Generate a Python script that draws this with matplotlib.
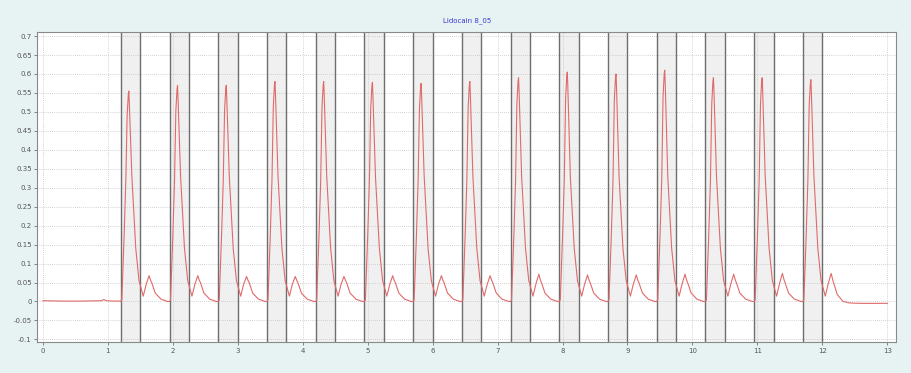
import matplotlib
matplotlib.use("Agg")
import matplotlib.pyplot as plt

title = "Lidocain 8_05"

# stimulus windows (grey bands)
band_start = [1.20, 1.95, 2.70, 3.45, 4.20, 4.95, 5.70, 6.45, 7.20, 7.95, 8.70, 9.45, 10.20, 10.95, 11.70]
band_end = [1.50, 2.25, 3.00, 3.75, 4.50, 5.25, 6.00, 6.75, 7.50, 8.25, 9.00, 9.75, 10.50, 11.25, 12.00]

# trace, one line per cycle
trace_t = [
    0.00, 0.30, 0.60, 0.90, 0.94, 0.98, 1.10, 1.19,
    1.200, 1.215, 1.250, 1.277, 1.297, 1.315, 1.323, 1.330, 1.370, 1.430, 1.480, 1.545, 1.590, 1.635, 1.660, 1.675, 1.730, 1.820, 1.920,
    1.950, 1.965, 2.000, 2.027, 2.047, 2.065, 2.073, 2.080, 2.120, 2.180, 2.230, 2.295, 2.340, 2.385, 2.410, 2.425, 2.480, 2.570, 2.670,
    2.700, 2.715, 2.750, 2.777, 2.797, 2.815, 2.823, 2.830, 2.870, 2.930, 2.980, 3.045, 3.090, 3.135, 3.160, 3.175, 3.230, 3.320, 3.420,
    3.450, 3.465, 3.500, 3.527, 3.547, 3.565, 3.573, 3.580, 3.620, 3.680, 3.730, 3.795, 3.840, 3.885, 3.910, 3.925, 3.980, 4.070, 4.170,
    4.200, 4.215, 4.250, 4.277, 4.297, 4.315, 4.323, 4.330, 4.370, 4.430, 4.480, 4.545, 4.590, 4.635, 4.660, 4.675, 4.730, 4.820, 4.920,
    4.950, 4.965, 5.000, 5.027, 5.047, 5.065, 5.073, 5.080, 5.120, 5.180, 5.230, 5.295, 5.340, 5.385, 5.410, 5.425, 5.480, 5.570, 5.670,
    5.700, 5.715, 5.750, 5.777, 5.797, 5.815, 5.823, 5.830, 5.870, 5.930, 5.980, 6.045, 6.090, 6.135, 6.160, 6.175, 6.230, 6.320, 6.420,
    6.450, 6.465, 6.500, 6.527, 6.547, 6.565, 6.573, 6.580, 6.620, 6.680, 6.730, 6.795, 6.840, 6.885, 6.910, 6.925, 6.980, 7.070, 7.170,
    7.200, 7.215, 7.250, 7.277, 7.297, 7.315, 7.323, 7.330, 7.370, 7.430, 7.480, 7.545, 7.590, 7.635, 7.660, 7.675, 7.730, 7.820, 7.920,
    7.950, 7.965, 8.000, 8.027, 8.047, 8.065, 8.073, 8.080, 8.120, 8.180, 8.230, 8.295, 8.340, 8.385, 8.410, 8.425, 8.480, 8.570, 8.670,
    8.700, 8.715, 8.750, 8.777, 8.797, 8.815, 8.823, 8.830, 8.870, 8.930, 8.980, 9.045, 9.090, 9.135, 9.160, 9.175, 9.230, 9.320, 9.420,
    9.450, 9.465, 9.500, 9.527, 9.547, 9.565, 9.573, 9.580, 9.620, 9.680, 9.730, 9.795, 9.840, 9.885, 9.910, 9.925, 9.980, 10.070, 10.170,
    10.200, 10.215, 10.250, 10.277, 10.297, 10.315, 10.323, 10.330, 10.370, 10.430, 10.480, 10.545, 10.590, 10.635, 10.660, 10.675, 10.730, 10.820, 10.920,
    10.950, 10.965, 11.000, 11.027, 11.047, 11.065, 11.073, 11.080, 11.120, 11.180, 11.230, 11.295, 11.340, 11.385, 11.410, 11.425, 11.480, 11.570, 11.670,
    11.700, 11.715, 11.750, 11.777, 11.797, 11.815, 11.823, 11.830, 11.870, 11.930, 11.980, 12.045, 12.090, 12.135, 12.160, 12.175, 12.230, 12.320, 12.420,
    12.600, 12.800, 13.000,
]
trace_v = [
    0.002, 0.001, 0.001, 0.002, 0.005, 0.002, 0.001, 0.001,
    0.000, 0.004, 0.170, 0.320, 0.490, 0.545, 0.555, 0.525, 0.330, 0.140, 0.055, 0.014, 0.045, 0.068, 0.055, 0.050, 0.022, 0.006, 0.000,
    0.000, 0.004, 0.170, 0.320, 0.503, 0.560, 0.570, 0.540, 0.330, 0.140, 0.055, 0.014, 0.045, 0.068, 0.055, 0.050, 0.022, 0.006, 0.000,
    0.000, 0.004, 0.170, 0.320, 0.503, 0.560, 0.570, 0.540, 0.330, 0.140, 0.055, 0.014, 0.045, 0.066, 0.055, 0.050, 0.022, 0.006, 0.000,
    0.000, 0.004, 0.170, 0.320, 0.512, 0.570, 0.580, 0.550, 0.330, 0.140, 0.055, 0.014, 0.045, 0.066, 0.055, 0.050, 0.022, 0.006, 0.000,
    0.000, 0.004, 0.170, 0.320, 0.512, 0.570, 0.580, 0.550, 0.330, 0.140, 0.055, 0.014, 0.045, 0.066, 0.055, 0.050, 0.022, 0.006, 0.000,
    0.000, 0.004, 0.170, 0.320, 0.510, 0.568, 0.578, 0.548, 0.330, 0.140, 0.055, 0.014, 0.045, 0.068, 0.055, 0.050, 0.022, 0.006, 0.000,
    0.000, 0.004, 0.170, 0.320, 0.508, 0.565, 0.575, 0.545, 0.330, 0.140, 0.055, 0.014, 0.045, 0.068, 0.055, 0.050, 0.022, 0.006, 0.000,
    0.000, 0.004, 0.170, 0.320, 0.512, 0.570, 0.580, 0.550, 0.330, 0.140, 0.055, 0.014, 0.045, 0.068, 0.055, 0.050, 0.022, 0.006, 0.000,
    0.000, 0.004, 0.170, 0.320, 0.521, 0.580, 0.590, 0.560, 0.330, 0.140, 0.055, 0.014, 0.046, 0.072, 0.056, 0.050, 0.022, 0.006, 0.000,
    0.000, 0.004, 0.170, 0.320, 0.534, 0.595, 0.605, 0.575, 0.330, 0.140, 0.055, 0.014, 0.046, 0.070, 0.055, 0.050, 0.022, 0.006, 0.000,
    0.000, 0.004, 0.170, 0.320, 0.530, 0.590, 0.600, 0.570, 0.330, 0.140, 0.055, 0.014, 0.046, 0.070, 0.055, 0.050, 0.022, 0.006, 0.000,
    0.000, 0.004, 0.170, 0.320, 0.539, 0.600, 0.610, 0.580, 0.330, 0.140, 0.055, 0.014, 0.046, 0.072, 0.056, 0.050, 0.022, 0.006, 0.000,
    0.000, 0.004, 0.170, 0.320, 0.521, 0.580, 0.590, 0.560, 0.330, 0.140, 0.055, 0.014, 0.046, 0.072, 0.056, 0.050, 0.022, 0.006, 0.000,
    0.000, 0.004, 0.170, 0.320, 0.521, 0.580, 0.590, 0.560, 0.330, 0.140, 0.055, 0.014, 0.047, 0.074, 0.057, 0.050, 0.022, 0.006, 0.000,
    0.000, 0.004, 0.170, 0.320, 0.517, 0.575, 0.585, 0.555, 0.330, 0.140, 0.055, 0.014, 0.047, 0.074, 0.057, 0.048, 0.018, 0.000, -0.004,
    -0.005, -0.005, -0.005,
]

yticks = [-0.1, -0.05, 0, 0.05, 0.1, 0.15, 0.2, 0.25, 0.3, 0.35, 0.4, 0.45, 0.5, 0.55, 0.6, 0.65, 0.7]
ytick_labels = ["-0.1", "-0.05", "0", "0.05", "0.1", "0.15", "0.2", "0.25", "0.3", "0.35",
                "0.4", "0.45", "0.5", "0.55", "0.6", "0.65", "0.7"]
xticks = list(range(0, 14))

fig = plt.figure(figsize=(9.11, 3.73), dpi=100, facecolor="#e7f3f3")
ax = fig.add_axes([0.041, 0.083, 0.943, 0.831])
ax.set_facecolor("white")

for a, b in zip(band_start, band_end):
    ax.axvspan(a, b, color="#f0f0f0", zorder=0, lw=0)
    ax.axvline(a, color="#6e6e6e", lw=1.0, zorder=1)
    ax.axvline(b, color="#6e6e6e", lw=1.0, zorder=1)

ax.plot(trace_t, trace_v, color="#e06a6a", lw=0.8, zorder=3)

ax.set_xlim(-0.085, 13.14)
ax.set_ylim(-0.107, 0.7105)
ax.set_xticks(xticks)
ax.set_xticklabels([str(x) for x in xticks])
ax.set_yticks(yticks)
ax.set_yticklabels(ytick_labels)
ax.grid(True, color="#c4c4c4", linestyle=(0, (1, 1.5)), lw=0.6, zorder=0.5)
ax.set_axisbelow(True)
ax.tick_params(labelsize=5, colors="#555555", length=2, width=0.5, pad=2)
for sp in ax.spines.values():
    sp.set_color("#8a8a8a")
    sp.set_linewidth(0.8)

ax.set_title(title, fontsize=5, color="#3a3ad0", pad=7)

fig.savefig("out.png", dpi=100, facecolor=fig.get_facecolor())
